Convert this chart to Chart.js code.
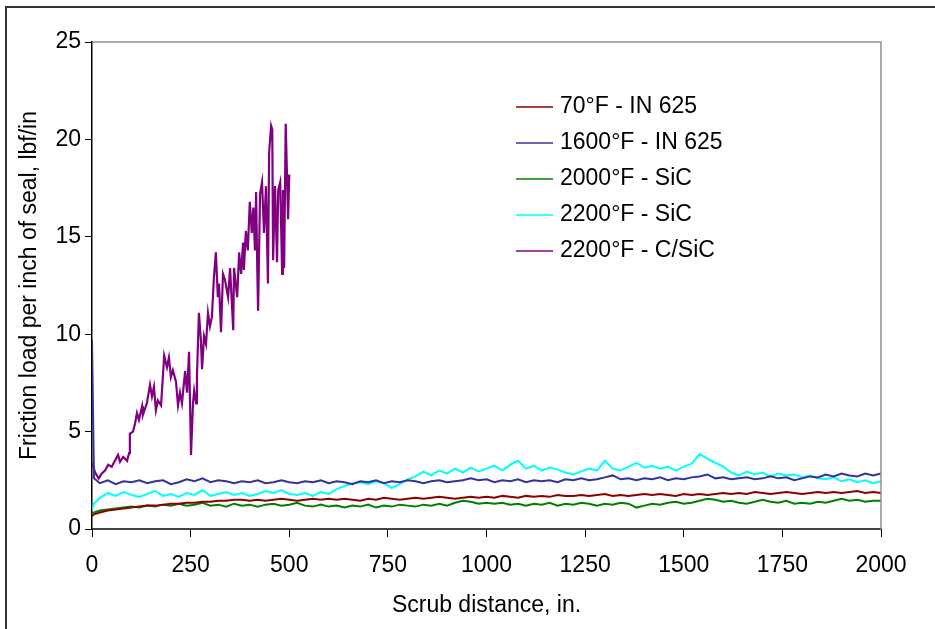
<!DOCTYPE html>
<html>
<head>
<meta charset="utf-8">
<script src="https://cdn.jsdelivr.net/npm/chart.js@4"></script>
<style>
  html, body { margin: 0; padding: 0; background: #fff; }
  #wrap { position: relative; width: 935px; height: 629px; overflow: hidden; }
  #frame { position: absolute; left: 5px; top: 6px; width: 1000px; height: 1000px; border: 2px solid #333; box-sizing: border-box; }
  #friction-chart { position: absolute; left: 0; top: 0; }
</style>
</head>
<body>
<div id="wrap">
  <div id="frame"></div>
  <canvas id="friction-chart" width="935" height="629"></canvas>
</div>
<script>
// scrub distance (in.) shared by the four long tests
const distance = [0, 5,
  20, 40, 60, 80, 100, 120, 140, 160, 180, 200,
  220, 240, 260, 280, 300, 320, 340, 360, 380, 400,
  420, 440, 460, 480, 500, 520, 540, 560, 580, 600,
  620, 640, 660, 680, 700, 720, 740, 760, 780, 800,
  820, 840, 860, 880, 900, 920, 940, 960, 980, 1000,
  1020, 1040, 1060, 1080, 1100, 1120, 1140, 1160, 1180, 1200,
  1220, 1240, 1260, 1280, 1300, 1320, 1340, 1360, 1380, 1400,
  1420, 1440, 1460, 1480, 1500, 1520, 1540, 1560, 1580, 1600,
  1620, 1640, 1660, 1680, 1700, 1720, 1740, 1760, 1780, 1800,
  1820, 1840, 1860, 1880, 1900, 1920, 1940, 1960, 1980, 2000];

const load70In625 = [0.65, 0.75,
  0.85, 0.95, 1.0, 1.05, 1.1, 1.15, 1.2, 1.2, 1.25, 1.3,
  1.3, 1.35, 1.35, 1.4, 1.4, 1.45, 1.45, 1.5, 1.5, 1.45,
  1.5, 1.45, 1.5, 1.55, 1.5, 1.45, 1.5, 1.55, 1.5, 1.55,
  1.5, 1.55, 1.5, 1.45, 1.55, 1.5, 1.6, 1.55, 1.5, 1.55,
  1.6, 1.55, 1.6, 1.65, 1.6, 1.55, 1.6, 1.65, 1.6, 1.65,
  1.6, 1.7, 1.65, 1.6, 1.7, 1.65, 1.7, 1.65, 1.75, 1.7,
  1.7, 1.75, 1.7, 1.75, 1.8, 1.7, 1.75, 1.7, 1.75, 1.8,
  1.75, 1.8, 1.75, 1.7, 1.8, 1.75, 1.8, 1.75, 1.8, 1.85,
  1.8, 1.85, 1.8, 1.9, 1.85, 1.8, 1.85, 1.9, 1.85, 1.8,
  1.85, 1.9, 1.85, 1.9, 1.85, 1.9, 1.95, 1.85, 1.9, 1.85];

const load1600In625 = [9.7, 2.6,
  2.35, 2.5, 2.3, 2.45, 2.4, 2.5, 2.35, 2.45, 2.5, 2.3,
  2.4, 2.55, 2.45, 2.6, 2.4, 2.5, 2.45, 2.35, 2.45, 2.4,
  2.5, 2.35, 2.4, 2.5, 2.4, 2.35, 2.45, 2.4, 2.5, 2.35,
  2.45, 2.4, 2.3, 2.45, 2.4, 2.5, 2.35, 2.45, 2.4, 2.5,
  2.45, 2.35, 2.45, 2.5, 2.4, 2.45, 2.5, 2.6, 2.5, 2.55,
  2.4, 2.5, 2.45, 2.55, 2.4, 2.5, 2.45, 2.5, 2.4, 2.55,
  2.5, 2.6, 2.5, 2.55, 2.65, 2.75, 2.55, 2.6, 2.5, 2.6,
  2.55, 2.65, 2.5, 2.6, 2.55, 2.65, 2.7, 2.8, 2.6, 2.65,
  2.55, 2.6, 2.65, 2.55, 2.6, 2.7, 2.6, 2.65, 2.5, 2.6,
  2.7, 2.65, 2.8, 2.7, 2.85, 2.75, 2.7, 2.85, 2.75, 2.85];

const load2000SiC = [0.8, 0.85,
  0.95, 1.0, 1.05, 1.1, 1.15, 1.1, 1.2, 1.15, 1.25, 1.2,
  1.3, 1.2, 1.25, 1.35, 1.2, 1.25, 1.15, 1.3, 1.2, 1.25,
  1.15, 1.25, 1.3, 1.2, 1.25, 1.35, 1.2, 1.15, 1.25, 1.15,
  1.2, 1.1, 1.2, 1.15, 1.25, 1.1, 1.2, 1.15, 1.25, 1.2,
  1.15, 1.25, 1.2, 1.3, 1.2, 1.35, 1.45, 1.4, 1.3, 1.35,
  1.3, 1.35, 1.25, 1.3, 1.2, 1.3, 1.25, 1.35, 1.2, 1.3,
  1.25, 1.35, 1.3, 1.2, 1.3, 1.25, 1.35, 1.3, 1.1, 1.2,
  1.3, 1.25, 1.35, 1.4, 1.3, 1.35, 1.45, 1.55, 1.5, 1.4,
  1.45, 1.35, 1.3, 1.4, 1.5, 1.4, 1.35, 1.45, 1.3, 1.35,
  1.3, 1.4, 1.35, 1.45, 1.55, 1.45, 1.5, 1.4, 1.45, 1.45];

const load2200SiC = [1.0, 1.3,
  1.6, 1.85, 1.7, 1.9, 1.75, 1.65, 1.8, 1.95, 1.7, 1.8,
  1.65, 1.85, 1.75, 2.0, 1.7, 1.8, 1.9, 1.75, 1.85, 1.7,
  1.8, 1.95, 1.85, 2.0, 1.8, 1.75, 1.85, 1.7, 1.9, 1.8,
  2.05, 2.2, 2.35, 2.4, 2.3, 2.45, 2.35, 2.1, 2.3, 2.55,
  2.7, 2.95, 2.75, 3.0, 2.85, 3.1, 2.9, 3.15, 2.95, 3.1,
  3.25, 3.0, 3.3, 3.5, 3.1, 3.25, 3.0, 3.15, 3.05, 2.9,
  2.8, 2.95, 3.1, 3.0, 3.5, 3.1, 3.0, 3.2, 3.4, 3.15,
  3.25, 3.1, 3.2, 3.0, 3.2, 3.35, 3.85, 3.6, 3.4, 3.2,
  2.9, 2.75, 2.95, 2.8, 2.9, 2.7, 2.85, 2.75, 2.8, 2.65,
  2.75, 2.6, 2.55, 2.65, 2.45, 2.55, 2.4, 2.5, 2.35, 2.45];

// C/SiC run stopped at about 500 in.
const cscDistance = [0, 8, 17, 25, 33, 41, 50, 58, 66, 71,
  79, 89, 94, 96, 104, 109, 114, 119, 127, 129,
  139, 147, 152, 157, 162, 167, 175, 183, 190, 195,
  200, 205, 213, 218, 223, 228, 236, 241, 246, 251,
  256, 259, 264, 266, 271, 276, 279, 284, 289, 294,
  299, 304, 309, 314, 319, 322, 327, 332, 337, 345,
  350, 358, 360, 368, 373, 378, 383, 385, 390, 395,
  400, 405, 409, 413, 416, 419, 421, 426, 431, 436,
  441, 446, 449, 454, 457, 459, 464, 469, 472, 477,
  482, 484, 487, 491, 494, 497, 500];
const load2200CSiC = [3.4, 2.9, 2.6, 2.85, 3.0, 3.3, 3.2, 3.5, 3.8, 3.45,
  3.7, 3.5, 3.9, 4.9, 5.0, 5.4, 5.95, 5.6, 6.3, 5.85,
  6.45, 7.4, 6.8, 7.3, 6.1, 6.6, 6.35, 8.9, 8.3, 8.8,
  7.8, 8.15, 7.55, 6.35, 7.0, 6.45, 8.1, 7.0, 9.1, 3.8,
  6.45, 7.1, 6.45, 7.8, 11.1, 9.7, 8.2, 9.9, 9.5, 11.1,
  10.4, 10.9, 12.9, 14.2, 11.9, 12.6, 10.1, 13.1, 12.8, 11.9,
  13.4, 10.2, 13.4, 11.9, 14.2, 13.1, 14.7, 13.3, 15.3, 14.3,
  16.8, 15.2, 16.5, 14.3, 17.3, 13.3, 11.2, 17.2, 17.8, 15.2,
  17.6, 12.6, 19.3, 20.7, 20.5, 13.8, 17.6, 13.7, 17.4, 17.8,
  13.1, 17.4, 13.4, 20.8, 18.4, 15.9, 18.2];

const seriesLabels = ["70°F - IN 625", "1600°F - IN 625", "2000°F - SiC", "2200°F - SiC", "2200°F - C/SiC"];
const seriesColors = ["#8b0000", "#333399", "#008000", "#00ffff", "#800080"];

const xTicks = [0, 250, 500, 750, 1000, 1250, 1500, 1750, 2000];
const yTicks = [0, 5, 10, 15, 20, 25];

const fontFamily = "'Liberation Sans', Arial, sans-serif";

function toPoints(xs, ys) {
  return xs.map((x, i) => ({ x: x, y: ys[i] }));
}

// legend sits inside the plot, like the original sheet
const insideLegend = {
  id: "insideLegend",
  afterDraw(chart) {
    const ctx = chart.ctx;
    ctx.save();
    ctx.font = "23px " + fontFamily;
    ctx.textBaseline = "middle";
    ctx.fillStyle = "#000";
    chart.data.datasets.forEach((ds, i) => {
      const y = 107 + i * 36;
      ctx.strokeStyle = ds.borderColor;
      ctx.lineWidth = 1.5;
      ctx.beginPath();
      ctx.moveTo(516, y);
      ctx.lineTo(553, y);
      ctx.stroke();
      ctx.fillText(ds.label, 560, y);
    });
    ctx.restore();
  }
};

const plotBorder = {
  id: "plotBorder",
  afterDraw(chart) {
    const a = chart.chartArea, ctx = chart.ctx;
    ctx.save();
    ctx.strokeStyle = "#909090";
    ctx.lineWidth = 1.5;
    ctx.beginPath();
    ctx.moveTo(a.left, a.top);
    ctx.lineTo(a.right, a.top);
    ctx.lineTo(a.right, a.bottom);
    ctx.stroke();
    ctx.restore();
  }
};

function initializeChart() {
  const data = [load70In625, load1600In625, load2000SiC, load2200SiC];
  const datasets = data.map((ys, i) => ({
    label: seriesLabels[i],
    data: toPoints(distance, ys),
    borderColor: seriesColors[i],
    backgroundColor: seriesColors[i],
    borderWidth: 2,
    pointRadius: 0,
    tension: 0
  }));
  datasets.push({
    label: seriesLabels[4],
    data: toPoints(cscDistance, load2200CSiC),
    borderColor: seriesColors[4],
    backgroundColor: seriesColors[4],
    borderWidth: 2.2,
    pointRadius: 0,
    tension: 0
  });

  new Chart(document.getElementById("friction-chart"), {
    type: "line",
    data: { datasets: datasets },
    options: {
      responsive: false,
      animation: false,
      events: [],
      layout: { padding: { left: 12, top: 42, right: 54, bottom: 6 } },
      plugins: { legend: { display: false }, tooltip: { enabled: false } },
      scales: {
        x: {
          type: "linear",
          min: 0, max: 2000,
          afterFit: (s) => { s.height = 94; },
          afterBuildTicks: (s) => { s.ticks = xTicks.map(v => ({ value: v })); },
          ticks: { color: "#000", font: { family: fontFamily, size: 23 }, padding: 15, maxRotation: 0,
            callback: (v) => String(v) },
          grid: { drawOnChartArea: false, drawTicks: true, tickLength: 8, color: "#000" },
          border: { color: "#444", width: 2 },
          title: { display: true, text: "Scrub distance, in.", color: "#000", font: { family: fontFamily, size: 23 } }
        },
        y: {
          min: 0, max: 25,
          afterFit: (s) => { s.width = 80; },
          afterBuildTicks: (s) => { s.ticks = yTicks.map(v => ({ value: v })); },
          ticks: { color: "#000", font: { family: fontFamily, size: 23 }, padding: 4,
            callback: (v) => String(v) },
          grid: { drawOnChartArea: false, drawTicks: true, tickLength: 7, color: "#000" },
          border: { color: "#000", width: 1.5 },
          title: { display: true, text: "Friction load per inch of seal, lbf/in", color: "#000", font: { family: fontFamily, size: 23 } }
        }
      }
    },
    plugins: [plotBorder, insideLegend]
  });
}

initializeChart();
</script>
</body>
</html>
